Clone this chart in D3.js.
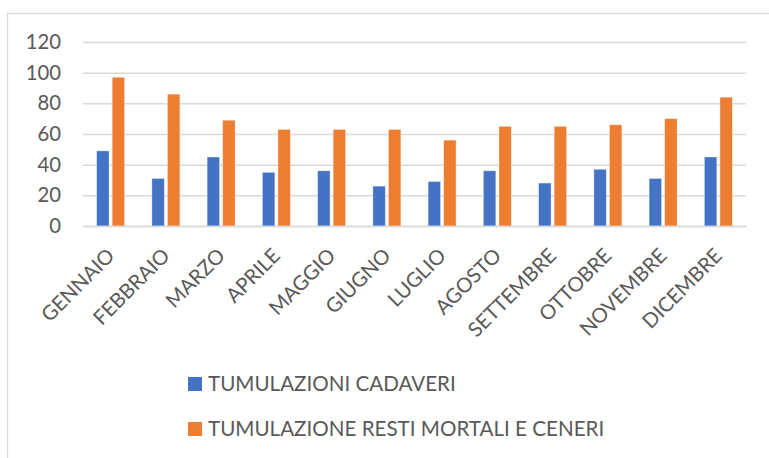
<!DOCTYPE html>
<html>
<head>
<meta charset="utf-8">
<script src="https://cdn.jsdelivr.net/npm/d3@7"></script>
<style>
  html, body { margin: 0; padding: 0; background: #fff; }
  svg { display: block; font-family: Lato, "Open Sans", sans-serif; }
</style>
</head>
<body>
<svg id="chart" width="769" height="458"></svg>
<script>
// Monthly burials: bodies vs. mortal remains and ashes
const months = ["GENNAIO", "FEBBRAIO", "MARZO", "APRILE", "MAGGIO", "GIUGNO",
                "LUGLIO", "AGOSTO", "SETTEMBRE", "OTTOBRE", "NOVEMBRE", "DICEMBRE"];
const seriesNames = ["TUMULAZIONI CADAVERI", "TUMULAZIONE RESTI MORTALI E CENERI"];
const cadaveri = [49, 31, 45, 35, 36, 26, 29, 36, 28, 37, 31, 45];
const restiCeneri = [97, 86, 69, 63, 63, 63, 56, 65, 65, 66, 70, 84];
const yTicks = [0, 20, 40, 60, 80, 100, 120];
const colors = ["#4472C4", "#ED7D31"];

const seriesValues = [cadaveri, restiCeneri];
const rows = months.map((m, i) => ({ month: m, values: seriesValues.map(s => s[i]) }));

const svg = d3.select("#chart");
const W = 769, H = 458;
const plot = { left: 83, right: 746, top: 42, bottom: 226 };
const textColor = "#595959";
const gridColor = "#D9D9D9";

// Outer chart frame (only top and left edges fall inside the view)
svg.append("rect")
  .attr("x", 7.5).attr("y", 13.5)
  .attr("width", W + 10).attr("height", H + 10)
  .attr("fill", "#fff")
  .attr("stroke", gridColor).attr("stroke-width", 1.3);

const x0 = d3.scaleBand().domain(months).range([plot.left, plot.right]);
const x1 = d3.scaleBand().domain(d3.range(seriesNames.length)).range([-14, 14]).paddingInner(0.2);
const y = d3.scaleLinear().domain([0, 120]).range([plot.bottom, plot.top]);

// Horizontal gridlines and value axis
const yAxis = d3.axisLeft(y).tickValues(yTicks).tickSize(-(plot.right - plot.left)).tickPadding(22);
const gy = svg.append("g").attr("transform", `translate(${plot.left},0)`).call(yAxis);
gy.select(".domain").remove();
gy.selectAll(".tick line").attr("stroke", gridColor).attr("stroke-width", 1.5);
gy.selectAll(".tick text")
  .attr("fill", textColor).attr("font-size", 20.3).attr("font-family", "Lato, sans-serif");

// Bars
const groups = svg.append("g").selectAll("g")
  .data(rows).join("g")
  .attr("transform", d => `translate(${x0(d.month) + x0.bandwidth() / 2},0)`);
groups.selectAll("rect")
  .data(d => d.values.map((v, k) => ({ k, v })))
  .join("rect")
  .attr("x", d => x1(d.k))
  .attr("width", x1.bandwidth())
  .attr("y", d => y(d.v))
  .attr("height", d => y(0) - y(d.v))
  .attr("fill", d => colors[d.k])
  .attr("stroke", "#fff").attr("stroke-opacity", 0.45).attr("stroke-width", 0.8);

// Category axis with rotated month labels
const xAxis = d3.axisBottom(x0).tickSize(0).tickPadding(0);
const gx = svg.append("g").attr("transform", `translate(0,${plot.bottom})`).call(xAxis);
gx.select(".domain").attr("stroke", gridColor).attr("stroke-width", 1.5);
gx.selectAll(".tick text")
  .attr("fill", textColor).attr("font-size", 20.3).attr("font-family", "Lato, sans-serif")
  .attr("text-anchor", "end")
  .attr("y", 0).attr("dy", "0.35em")
  .attr("transform", "translate(0,26) rotate(-45)");

// Legend
const legend = svg.append("g").attr("transform", "translate(188,377)");
const items = legend.selectAll("g").data(seriesNames).join("g")
  .attr("transform", (d, i) => `translate(0,${i * 45})`);
items.append("rect")
  .attr("width", 14).attr("height", 14)
  .attr("fill", (d, i) => colors[i]);
items.append("text")
  .attr("x", 20).attr("y", 14)
  .attr("fill", textColor).attr("font-size", 20.6)
  .text(d => d);
</script>
</body>
</html>
